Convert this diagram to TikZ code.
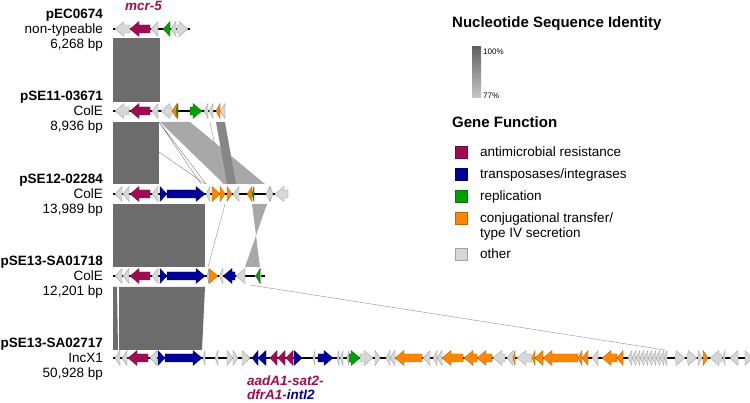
\documentclass[tikz,border=0pt]{standalone}
\usepackage{fontspec}
\setmainfont{Liberation Sans}
\usepackage{tikz}
\usetikzlibrary{positioning}

\definecolor{amrcol}{RGB}{160,12,82}
\definecolor{tnpcol}{RGB}{0,0,150}
\definecolor{repcol}{RGB}{0,160,0}
\definecolor{conjcol}{RGB}{255,135,0}
\definecolor{othcol}{RGB}{215,215,215}
\definecolor{mdark}{RGB}{108,108,108}
\definecolor{mmid}{RGB}{135,135,135}
\definecolor{mlight}{RGB}{168,168,168}

\newcommand{\labfont}{\fontsize{13.5}{16}\selectfont}

\tikzset{
  lab/.style={font=\labfont, inner sep=0pt, anchor=base east},
  labb/.style={lab, font=\labfont\bfseries},
  legtext/.style={font=\labfont, inner sep=0pt, anchor=base west},
  legtitle/.style={font=\fontsize{15}{18}\selectfont\bfseries, inner sep=0pt, anchor=base west},
  legbox/.style={draw=#1!75!black, fill=#1, minimum size=12pt, inner sep=0pt, line width=0.4pt},
  genelabel/.style={font=\labfont\bfseries\itshape, inner sep=0pt, anchor=base west},
  gene/.style={line width=0.3pt, line join=miter},
  backbone/.style={black, line width=1.6pt},
  xline/.style={black!55, line width=0.35pt},
  thinmatch/.style={gray!75, line width=0.5pt}
}

% y, list of start/end/direction/colour
\newcommand{\genes}[2]{%
  \foreach \xa/\xb/\dir/\col in {#2}{%
    \pgfmathsetmacro{\tipx}{\dir>0 ? \xb : \xa}%
    \pgfmathsetmacro{\basex}{\dir>0 ? \xa : \xb}%
    \pgfmathsetmacro{\neckx}{\tipx-\dir*min(9,\xb-\xa)}%
    \filldraw[gene, fill=\col, draw=\col!70!black]
      (\basex,#1-4) -- (\neckx,#1-4) -- (\neckx,#1-7.5) -- (\tipx,#1)
      -- (\neckx,#1+7.5) -- (\neckx,#1+4) -- (\basex,#1+4) -- cycle;
  }%
}

% name, y, title, type, size
\newcommand{\plabel}[5]{%
  \node[labb] (#1-name) at (103,#2-10.2) {#3};
  \node[lab] (#1-type) at (103,#2+4.8) {#4};
  \node[lab] (#1-size) at (103,#2+19.8) {#5};
}

\begin{document}
\begin{tikzpicture}[x=1pt, y=-1pt]
  \useasboundingbox (0,0) rectangle (750,403);

  %%%%% MATCHING REGIONS
  \begin{scope}
    % pEC0674 - pSE11-03671
    \fill[mdark] (113,38) -- (160,38) -- (160,102) -- (113,102) -- cycle;
    \draw[xline] (113,38) -- (160,102) (160,38) -- (113,102);
    % pSE11-03671 - pSE12-02284
    \fill[mlight] (160,122) -- (190,122) -- (265,184) -- (224,184) -- cycle;
    \fill[mmid] (216,122) -- (225,122) -- (236,184) -- (227,184) -- cycle;
    \draw[thinmatch] (210,122) -- (223,184);
    \fill[mdark] (113,122) -- (159,122) -- (159,184) -- (113,184) -- cycle;
    \draw[xline] (113,122) -- (159,184) (159,122) -- (113,184);
    \draw[xline] (159,122) -- (201,184) (159,122) -- (206,184) (159,152) -- (205,184);
    % pSE12-02284 - pSE13-SA01718
    \fill[mdark] (113,204) -- (205,204) -- (205,267) -- (113,267) -- cycle;
    \draw[xline] (113,204) -- (205,267) (205,204) -- (113,267);
    \draw[thinmatch] (225,204) -- (208,267);
    \fill[mlight] (252,204) -- (267,204) -- (245,267) -- (260,267) -- cycle;
    % pSE13-SA01718 - pSE13-SA02717
    \fill[mdark] (113,287) -- (117,287) -- (118,350) -- (113,350) -- cycle;
    \fill[mdark] (119,287) -- (205,287) -- (202,350) -- (119,350) -- cycle;
    \draw[xline] (119,287) -- (202,350) (205,287) -- (119,350);
    \draw[thinmatch] (250,285) -- (665,350);
  \end{scope}

  %%%%% BACKBONES
  \draw[backbone] (113,29) -- (190,29);
  \draw[backbone] (113,111) -- (225,111);
  \draw[backbone] (113,194) -- (275,194);
  \draw[backbone] (113,276) -- (265,276);
  \draw[backbone] (113,358) -- (750,358);

  %%%%% GENES
  \genes{29}{115/130/-1/othcol, 130/150/-1/amrcol, 151/158/-1/othcol, 163/170/-1/repcol,
    171/176/-1/othcol, 177/188/1/othcol}
  \genes{111}{115/129/-1/othcol, 130/150/-1/amrcol, 152/158/-1/othcol, 161/172/-1/othcol,
    172/177/-1/conjcol, 176/178/-1/repcol, 190/202/1/repcol, 204/208/-1/othcol,
    209/213/-1/othcol, 216/220/-1/conjcol, 220/225/-1/othcol}
  \genes{194}{115/122/-1/othcol, 123/129/-1/othcol, 130/150/-1/amrcol, 152/158/-1/othcol,
    160/167/1/tnpcol, 167/205/1/tnpcol, 206/210/-1/othcol, 212/220/1/conjcol,
    220/225/1/conjcol, 227/232/1/conjcol, 233/239/-1/othcol, 247/252/-1/conjcol,
    252/254/-1/repcol, 266/270/-1/othcol, 270/273/1/othcol, 275/288/-1/othcol}
  \genes{276}{115/122/-1/othcol, 123/129/-1/othcol, 130/150/-1/amrcol, 152/158/-1/othcol,
    160/167/1/tnpcol, 167/205/1/tnpcol, 207/209/-1/othcol, 209/218/1/conjcol,
    219/223/-1/othcol, 223/235/-1/tnpcol, 236/245/-1/othcol, 255/261/-1/othcol,
    256/260/-1/repcol}
  \genes{358}{115/120/-1/othcol, 122/127/-1/othcol, 128/148/-1/amrcol, 150/157/-1/othcol,
    158/165/1/tnpcol, 165/202/1/tnpcol, 203/205/-1/othcol, 215/218/-1/othcol,
    227/233/1/othcol, 233/238/1/othcol, 242/250/1/othcol, 252/258/-1/tnpcol,
    258/266/-1/tnpcol, 270/277/-1/amrcol, 278/285/-1/amrcol, 286/293/-1/amrcol,
    294/302/1/tnpcol, 313/315/-1/othcol, 318/333/1/tnpcol, 337/339/-1/othcol,
    340/343/-1/othcol, 347/349/-1/othcol, 349/360/1/repcol, 360/373/1/othcol,
    375/380/1/othcol, 386/390/-1/othcol, 390/395/-1/othcol, 395/422/-1/conjcol,
    423/430/-1/othcol, 433/437/-1/othcol, 437/442/-1/othcol, 442/463/-1/conjcol,
    464/477/-1/conjcol, 477/492/-1/conjcol, 493/505/-1/othcol, 507/513/-1/othcol,
    513/515/-1/conjcol, 517/532/-1/othcol, 532/535/-1/conjcol, 535/543/-1/conjcol,
    543/578/-1/conjcol, 578/582/-1/conjcol, 582/588/-1/conjcol, 592/598/-1/othcol,
    602/617/-1/conjcol, 617/623/-1/conjcol, 628/632/-1/othcol, 632/636/-1/othcol,
    636/640/-1/othcol, 640/644/-1/othcol, 644/648/-1/othcol, 648/652/-1/othcol,
    652/656/-1/othcol, 656/660/-1/othcol, 660/664/-1/othcol, 664/667/-1/othcol,
    675/685/1/othcol, 687/697/1/othcol, 698/702/1/othcol, 703/708/1/conjcol,
    710/722/-1/othcol, 723/725/-1/othcol, 730/738/-1/othcol, 745/752/1/othcol}

  %%%%% PLASMID LABELS
  \plabel{pec}{29}{pEC0674}{non-typeable}{6,268 bp}
  \plabel{pse11}{111}{pSE11-03671}{ColE}{8,936 bp}
  \plabel{pse12}{194}{pSE12-02284}{ColE}{13,989 bp}
  \plabel{pse13a}{276}{pSE13-SA01718}{ColE}{12,201 bp}
  \plabel{pse13b}{358}{pSE13-SA02717}{IncX1}{50,928 bp}

  %%%%% GENE NAMES
  \node[genelabel, text=amrcol] (mcr) at (125,11) {mcr-5};
  \node[genelabel, text=amrcol] (aad) at (247,385.5) {aadA1-sat2-};
  \node[genelabel] (dfr) at (247,399.5) {\textcolor{amrcol}{dfrA1-}\textcolor{tnpcol}{intI2}};

  %%%%% LEGEND
  \node[legtitle] (idtitle) at (452,27.4) {Nucleotide Sequence Identity};
  \shade[top color=black!62, bottom color=black!22] (472,47) rectangle (481,98);
  \node[font=\fontsize{8}{9}\selectfont, inner sep=0pt, anchor=base west] (idhi) at (483,55) {100\%};
  \node[font=\fontsize{8}{9}\selectfont, inner sep=0pt, anchor=base west] (idlo) at (483,99) {77\%};

  \node[legtitle] (gftitle) at (452,127.4) {Gene Function};
  \node[legbox=amrcol] (kamr) at (461,152) {};
  \node[legtext] (tamr) at (480,156.8) {antimicrobial resistance};
  \node[legbox=tnpcol] (ktnp) at (461,174) {};
  \node[legtext] (ttnp) at (480,178.8) {transposases/integrases};
  \node[legbox=repcol] (krep) at (461,196) {};
  \node[legtext] (trep) at (480,200.8) {replication};
  \node[legbox=conjcol] (kconj) at (461,218) {};
  \node[legtext] (tconja) at (480,222.8) {conjugational transfer/};
  \node[legtext] (tconjb) at (480,237.8) {type IV secretion};
  \node[legbox=othcol] (koth) at (461,254) {};
  \node[legtext] (toth) at (480,258.8) {other};
\end{tikzpicture}
\end{document}
